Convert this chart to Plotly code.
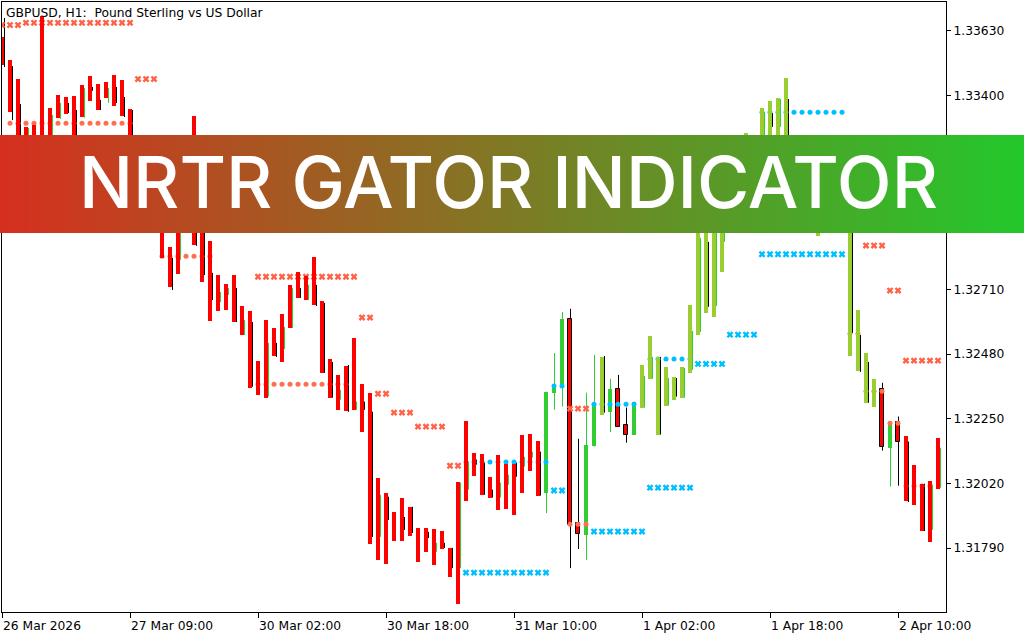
import base64
import plotly.graph_objects as go

# ---------------- data ----------------
# bar codes: r = red indicator bar, R = red chart candle (black outline),
#            g = limegreen chart candle, y = yellowgreen indicator bar
codes = list("".join([
    "rrrrrrrrrr", "rrrrrrrrrr", "rrrrrrrrrr", "rrrrrrrrrr", "rrrrrrrrrr", "rrrrrrrrrr",
    "rrrrrrrrgg", "gRRggygRRg", "yyyyyyyyyy", "yyyyyyyyyy", "yyyyyyyyyy", "RgRrrrrr"]))
open_ = [1.33608, 1.33526, 1.33458, 1.33288, 1.33295, 1.33682, 1.33355, 1.33401, 1.33394, 1.33398,
         1.33437, 1.33469, 1.33440, 1.33448, 1.33472, 1.33455, 1.33352, 1.33241, 1.33170, 1.33117,
         1.33028, 1.32861, 1.33010, 1.33064, 1.33327, 1.33099, 1.32882, 1.32761, 1.32729, 1.32761,
         1.32651, 1.32633, 1.32456, 1.32601, 1.32573, 1.32623, 1.32726, 1.32772, 1.32758, 1.32825,
         1.32669, 1.32463, 1.32406, 1.32438, 1.32537, 1.32375, 1.32343, 1.32040, 1.31987, 1.31919,
         1.31970, 1.31937, 1.31862, 1.31862, 1.31858, 1.31851, 1.31791, 1.32026, 1.32243, 1.32130,
         1.32126, 1.32044, 1.32122, 1.32090, 1.32090, 1.32194, 1.32196, 1.32172, 1.31987, 1.32343,
         1.32368, 1.32605, 1.31880, 1.31837, 1.32154, 1.32265, 1.32275, 1.32357, 1.32229, 1.32194,
         1.32290, 1.32392, 1.32194, 1.32297, 1.32318, 1.32325, 1.32413, 1.32548, 1.32626, 1.32612,
         1.32772, 1.32939, 1.32975, 1.33028, 1.32992, 1.33028, 1.33099, 1.33135, 1.33170, 1.33064,
         1.33028, 1.33046, 1.32900, 1.32992, 1.32975, 1.32939, 1.32473, 1.32420, 1.32307, 1.32293,
         1.32357, 1.32147, 1.32240, 1.32190, 1.32087, 1.32019, 1.32029, 1.32183]
close_ = [1.33508, 1.33341, 1.33135, 1.33099, 1.33117, 1.33206, 1.33170, 1.33320, 1.33334, 1.33152,
          1.33323, 1.33380, 1.33348, 1.33391, 1.33362, 1.33327, 1.33117, 1.33064, 1.32975, 1.32939,
          1.32822, 1.32719, 1.32765, 1.32921, 1.32868, 1.32737, 1.32598, 1.32633, 1.32637, 1.32594,
          1.32548, 1.32361, 1.32336, 1.32325, 1.32473, 1.32452, 1.32573, 1.32680, 1.32672, 1.32655,
          1.32413, 1.32325, 1.32282, 1.32279, 1.32282, 1.32203, 1.31805, 1.31748, 1.31734, 1.31816,
          1.31816, 1.31834, 1.31741, 1.31777, 1.31730, 1.31787, 1.31687, 1.31592, 1.31958, 1.32048,
          1.31980, 1.31970, 1.31926, 1.31929, 1.31908, 1.31987, 1.32066, 1.31977, 1.32346, 1.32368,
          1.32605, 1.31873, 1.31841, 1.32158, 1.32297, 1.32470, 1.32357, 1.32222, 1.32194, 1.32311,
          1.32441, 1.32545, 1.32470, 1.32434, 1.32399, 1.32434, 1.32655, 1.33064, 1.33046, 1.33081,
          1.33099, 1.33135, 1.33170, 1.33266, 1.33206, 1.33355, 1.33380, 1.33391, 1.33462, 1.33241,
          1.33206, 1.33224, 1.33170, 1.33206, 1.33170, 1.33135, 1.33028, 1.32637, 1.32484, 1.32392,
          1.32151, 1.32236, 1.32169, 1.31958, 1.31944, 1.31851, 1.31812, 1.32002]
N = None
high_ = [1.33675, 1.33504, 1.33369, 1.33284, N, N, 1.33330, 1.33373, 1.33373, 1.33348,
         1.33426, 1.33430, 1.33384, 1.33426, 1.33430, 1.33394, 1.33348, N, N, N,
         N, 1.32822, 1.32911, N, 1.33259, 1.33028, 1.32769, 1.32701, 1.32715, 1.32715,
         1.32601, 1.32594, N, 1.32520, 1.32520, 1.32577, 1.32715, 1.32715, 1.32726, 1.32726,
         1.32662, 1.32452, 1.32353, 1.32441, 1.32311, 1.32311, 1.32275, 1.31980, 1.31973, N,
         1.31901, 1.31937, N, 1.31848, 1.31809, 1.31809, 1.31791, 1.32023, 1.32098, 1.32105,
         1.32094, 1.31998, 1.32023, 1.32051, 1.32094, 1.32115, 1.32133, 1.32133, 1.32346, 1.32484,
         1.32630, 1.32641, 1.32179, 1.32343, 1.32477, 1.32473, 1.32392, 1.32406, 1.32290, 1.32311,
         1.32402, 1.32470, 1.32470, 1.32395, 1.32395, 1.32431, 1.32562, 1.32893, 1.32879, 1.33028,
         1.33099, N, N, N, N, 1.33341, 1.33337, 1.33387, 1.33387, N,
         N, N, N, N, N, N, 1.32992, 1.32548, 1.32452, N,
         1.32378, 1.32236, 1.32258, 1.32169, N, 1.32019, 1.32016, 1.32147]
low_ = [1.33501, 1.33312, 1.33117, 1.33170, N, N, 1.33206, 1.33316, 1.33337, 1.33170,
        1.33320, 1.33416, 1.33348, 1.33373, 1.33373, 1.33323, 1.33135, N, N, N,
        N, 1.32708, 1.32815, N, 1.32865, 1.32761, 1.32672, 1.32665, 1.32690, 1.32594,
        1.32548, 1.32364, N, 1.32329, 1.32470, 1.32498, 1.32573, 1.32680, 1.32672, 1.32651,
        1.32413, 1.32325, 1.32318, 1.32275, 1.32282, 1.32282, 1.31830, 1.31830, 1.31890, N,
        1.31855, 1.31844, N, 1.31826, 1.31777, 1.31791, 1.31719, 1.31719, 1.31998, 1.32087,
        1.31980, 1.31970, 1.31970, 1.32016, 1.32044, 1.32080, 1.32112, 1.31977, 1.31915, 1.32282,
        1.32293, 1.31719, 1.31787, 1.31748, 1.32151, 1.32272, 1.32203, 1.32222, 1.32165, 1.32194,
        1.32290, 1.32392, 1.32194, 1.32297, 1.32329, 1.32325, 1.32424, 1.32559, 1.32648, 1.32651,
        1.32879, N, N, N, N, 1.33099, 1.33288, 1.33288, 1.33206, N,
        N, N, N, N, N, N, 1.32555, 1.32417, 1.32307, N,
        1.32137, 1.32009, 1.32012, 1.31954, N, 1.31851, 1.31855, 1.32005]
# colour of the thin candle line beside each bar: k = black, g = green, n = none
line_codes = list("".join([
    "kkkgnnggkk", "gkkgkkknnn", "nkgnkkkggk", "gkngkggkgk", "kkgkgkkgkn", "kknkgkkggk",
    "kkggkggkgg", "gkkggkgkkg", "ggkgkgggkg", "gnnnngkgkn", "nnnnnnkkkn", "kgkknkgg"]))

# NRTR level segments: first bar, last bar, price
red_x_start = [0, 3, 17, 32, 45, 47, 49, 52, 56, 71, 108, 111, 113]
red_x_end = [2, 16, 19, 44, 46, 48, 51, 55, 57, 73, 110, 112, 117]
red_x_level = [1.33650, 1.33658, 1.33458, 1.32755, 1.32610, 1.32339, 1.32272, 1.32222,
               1.32083, 1.32286, 1.32866, 1.32706, 1.32457]
red_dot_start = [1, 20, 32, 71, 106, 108, 111, 113]
red_dot_end = [16, 26, 43, 73, 107, 110, 112, 116]
red_dot_level = [1.33301, 1.32828, 1.32373, 1.31875, 1.32552, 1.32348, 1.32234, 1.32011]
blue_x_start = [58, 69, 74, 81, 87, 91, 95]
blue_x_end = [68, 70, 80, 86, 90, 94, 105]
blue_x_level = [1.31703, 1.31995, 1.31849, 1.32005, 1.32445, 1.32549, 1.32835]
blue_dot_start = [58, 69, 74, 81, 95]
blue_dot_end = [68, 70, 79, 86, 105]
blue_dot_level = [1.32096, 1.32367, 1.32302, 1.32463, 1.33340]

x_tick_pos = [0, 16, 32, 48, 64, 80, 96, 112]
x_tick_text = ["26 Mar 2026", "27 Mar 09:00", "30 Mar 02:00", "30 Mar 18:00",
               "31 Mar 10:00", "1 Apr 02:00", "1 Apr 18:00", "2 Apr 10:00"]
y_tick_vals = [1.31790, 1.32020, 1.32250, 1.32480, 1.32710, 1.32940, 1.33170, 1.33400, 1.33630]
y_range = [1.31563, 1.33732]
x_range = [0, 118]

title_text = "GBPUSD, H1:\u00a0 Pound Sterling vs US Dollar"
banner_text = "NRTR GATOR INDICATOR"

# ---------------- styling ----------------
RED = "#FF0000"
LIME = "#32CD32"
YGREEN = "#9ACD32"
SALMON = "#FF6347"
SKY = "#00BFFF"
body_col = {"r": RED, "R": RED, "g": LIME, "y": YGREEN}
n = len(open_)

fig = go.Figure()


def bar_trace(sel, widths, outline, xa="x", ya="y"):
    idx = [i for i in range(n) if codes[i] in sel]
    return go.Bar(
        x=idx,
        base=[min(open_[i], close_[i]) for i in idx],
        y=[abs(close_[i] - open_[i]) for i in idx],
        width=[widths[codes[i]] for i in idx],
        marker=dict(color=[body_col[codes[i]] for i in idx],
                    line=dict(color=["#000000" if codes[i] == "R" else body_col[codes[i]] for i in idx],
                              width=[1 if codes[i] == "R" and outline else 0 for i in idx])),
        xaxis=xa, yaxis=ya, hoverinfo="skip")


# chart candles (bottom layer)
fig.add_trace(bar_trace("gR", {"g": 0.6, "R": 0.5}, True))

# thin candle lines (real candle wicks); small offsets keep the 1px lines on pixel centres
CENTER_OFF = 0.0625
SIDE_OFF = 0.3125
lines = {"k": ([], []), "g": ([], [])}
for i in range(n):
    lc = line_codes[i]
    if lc == "n" or high_[i] is None:
        continue
    xs, ys = lines[lc]
    if codes[i] == "R":
        top, bot = max(open_[i], close_[i]), min(open_[i], close_[i])
        xc = i + CENTER_OFF
        xs += [xc, xc, None, xc, xc, None]
        ys += [high_[i], top, None, bot, low_[i], None]
    else:
        xc = i + (CENTER_OFF if codes[i] == "g" else SIDE_OFF)
        xs += [xc, xc, None]
        ys += [high_[i], low_[i], None]
for lc, col in (("k", "#000000"), ("g", LIME)):
    fig.add_trace(go.Scatter(x=lines[lc][0], y=lines[lc][1], mode="lines",
                             line=dict(color=col, width=1), hoverinfo="skip"))


def seg_points(starts, ends, levels):
    xs, ys = [], []
    for s, e, v in zip(starts, ends, levels):
        for k in range(s, e + 1):
            xs.append(k)
            ys.append(v)
    return xs, ys


for (st, en, lv), sym, col, size in (
        ((red_dot_start, red_dot_end, red_dot_level), "circle", "#FF6F50", 5),
        ((blue_dot_start, blue_dot_end, blue_dot_level), "circle", SKY, 5),
        ((red_x_start, red_x_end, red_x_level), "x", SALMON, 6),
        ((blue_x_start, blue_x_end, blue_x_level), "x", SKY, 6)):
    xs, ys = seg_points(st, en, lv)
    fig.add_trace(go.Scatter(x=xs, y=ys, mode="markers",
                             marker=dict(symbol=sym, size=size, color=col, line=dict(width=0)),
                             hoverinfo="skip"))

# indicator histogram bars on top (overlaid subplot drawn above the markers)
fig.add_trace(bar_trace("ry", {"r": 0.5, "y": 0.5}, False, "x2", "y2"))

# ---------------- layout ----------------
W, H = 1024, 640
L, R, T, B = 2, 78, 2, 28
pw, ph = W - L - R, H - T - B

svg = ("<svg xmlns='http://www.w3.org/2000/svg' width='1024' height='98' preserveAspectRatio='none'>"
       "<defs><linearGradient id='g' x1='0' x2='1' y1='0' y2='0'>"
       "<stop offset='0' stop-color='#D62F1F'/><stop offset='0.5' stop-color='#7E7A25'/>"
       "<stop offset='1' stop-color='#23C82B'/></linearGradient></defs>"
       "<rect width='1024' height='98' fill='url(#g)'/></svg>")
uri = "data:image/svg+xml;base64," + base64.b64encode(svg.encode()).decode()

bx0, bx1, by0, by1 = 0, 1024, 135, 233
fig.add_layout_image(dict(source=uri, xref="paper", yref="paper",
                          x=(bx0 - L) / pw, y=1 - (by0 - T) / ph,
                          sizex=(bx1 - bx0) / pw, sizey=(by1 - by0) / ph,
                          xanchor="left", yanchor="top", sizing="stretch", layer="above"))

fig.add_annotation(text=banner_text, xref="paper", yref="paper",
                   x=(508 - L) / pw, y=1 - (182 - T) / ph, xanchor="center", yanchor="middle",
                   showarrow=False, font=dict(family="Inter", size=71.5, color="#FFFFFF", weight=500))
fig.add_annotation(text=title_text, xref="paper", yref="paper",
                   x=(4 - L) / pw, y=1 - (13 - T) / ph, xanchor="left", yanchor="middle",
                   showarrow=False, font=dict(family="DejaVu Sans", size=12.3, color="#000000"))

fig.update_layout(
    width=W, height=H, margin=dict(l=L, r=R, t=T, b=B),
    paper_bgcolor="#FFFFFF", plot_bgcolor="#FFFFFF",
    showlegend=False, barmode="overlay", bargap=0,
    font=dict(family="DejaVu Sans", size=12.3, color="#000000"),
    xaxis=dict(range=x_range, tickmode="array", tickvals=x_tick_pos, ticktext=x_tick_text,
               ticks="outside", ticklen=5, tickcolor="#000000", showgrid=False, zeroline=False,
               showline=True, mirror=True, linecolor="#000000", linewidth=1,
               ticklabelposition="outside right", ticklabelstandoff=2, fixedrange=True),
    yaxis=dict(range=y_range, side="right", tickmode="array", tickvals=y_tick_vals,
               ticktext=["%.5f" % v for v in y_tick_vals], ticks="outside", ticklen=4,
               tickcolor="#000000", showgrid=False, zeroline=False, showline=True, mirror=True,
               linecolor="#000000", linewidth=1, fixedrange=True),
    xaxis2=dict(overlaying="x", range=x_range, visible=False, fixedrange=True),
    yaxis2=dict(overlaying="y", range=y_range, visible=False, fixedrange=True),
)

fig.write_html("out.html", config={"displayModeBar": False},
               post_script="document.body.style.margin='0';document.body.style.overflow='hidden';")
